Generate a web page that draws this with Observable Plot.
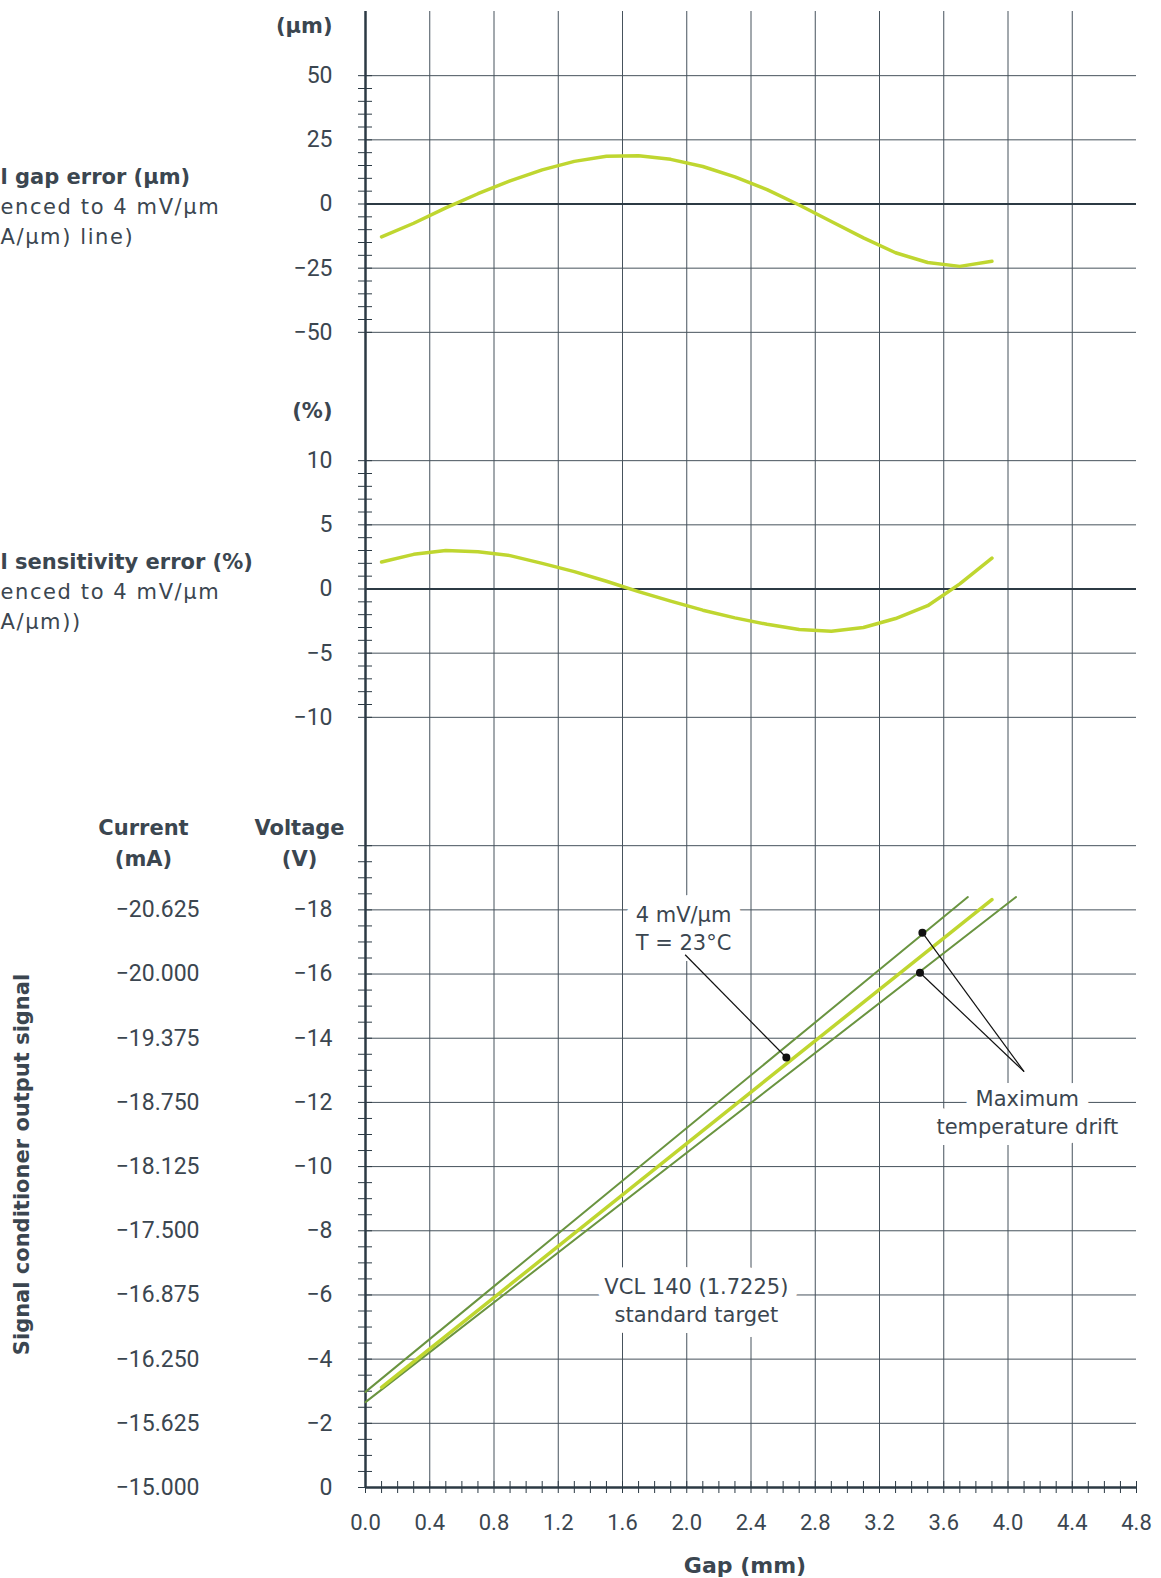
<!DOCTYPE html>
<html>
<head>
<meta charset="utf-8">
<script src="https://cdn.jsdelivr.net/npm/d3@7"></script>
<script src="https://cdn.jsdelivr.net/npm/@observablehq/plot@0.6"></script>
<style>
  html, body { margin: 0; padding: 0; background: #fff; }
  #chart { position: relative; width: 1161px; height: 1578px; overflow: hidden; background: #fff; }
  #chart svg { position: absolute; left: 0; overflow: visible; }
</style>
</head>
<body>
<div id="chart"></div>
<script>
// ---------------- DATA ----------------
const gapPts    = [0.1, 0.3, 0.5, 0.7, 0.9, 1.1, 1.3, 1.5, 1.7, 1.9, 2.1, 2.3, 2.5, 2.7, 2.9, 3.1, 3.3, 3.5, 3.7, 3.9];
const gapError  = [-12.8, -7.5, -1.5, 4.0, 9.0, 13.3, 16.6, 18.6, 18.8, 17.4, 14.6, 10.6, 5.6, -0.4, -6.8, -13.2, -19.0, -22.8, -24.3, -22.3];
const sensError = [2.1, 2.7, 3.0, 2.9, 2.6, 2.0, 1.35, 0.6, -0.2, -0.95, -1.65, -2.25, -2.75, -3.15, -3.3, -3.0, -2.3, -1.3, 0.4, 2.4];

const nominalGap   = [0.1, 3.9];
const nominalV     = [-3.12, -18.32];
const driftHighGap = [0, 3.75];
const driftHighV   = [-2.98, -18.4];
const driftLowGap  = [0, 4.05];
const driftLowV    = [-2.66, -18.4];

const gapTicks      = [0, 0.4, 0.8, 1.2, 1.6, 2.0, 2.4, 2.8, 3.2, 3.6, 4.0, 4.4, 4.8];
const gapTickLabels = ["0.0", "0.4", "0.8", "1.2", "1.6", "2.0", "2.4", "2.8", "3.2", "3.6", "4.0", "4.4", "4.8"];
const gapGrid       = [0.4, 0.8, 1.2, 1.6, 2.0, 2.4, 2.8, 3.2, 3.6, 4.0, 4.4];
const gapMinor      = d3.range(0, 49).map(i => i / 10);

const errorTicks  = [-50, -25, 0, 25, 50];
const errorLabels = ["−50", "−25", "0", "25", "50"];
const errorGrid   = [-50, -25, 25, 50];
const errorMinor  = d3.range(-50, 51, 5);

const sensTicks  = [-10, -5, 0, 5, 10];
const sensLabels = ["−10", "−5", "0", "5", "10"];
const sensGrid   = [-10, -5, 5, 10];
const sensMinor  = d3.range(-10, 11, 1);

const voltTicks     = [-18, -16, -14, -12, -10, -8, -6, -4, -2, 0];
const voltLabels    = ["−18", "−16", "−14", "−12", "−10", "−8", "−6", "−4", "−2", "0"];
const currentLabels = ["−20.625", "−20.000", "−19.375", "−18.750", "−18.125", "−17.500", "−16.875", "−16.250", "−15.625", "−15.000"];
const voltGrid      = [-20, -18, -16, -14, -12, -10, -8, -6, -4, -2];
const voltMinor     = d3.range(-20, 0.01, 0.5);

const noteText      = ["4 mV/μm\nT = 23°C", "Maximum\ntemperature drift", "VCL 140 (1.7225)\nstandard target"];
const noteGap       = [1.98, 4.12, 2.06];
const noteV         = [-17.45, -11.74, -5.88];
const leaderFromGap = [1.99, 4.10, 4.10];
const leaderFromV   = [-16.6, -12.96, -12.96];
const leaderToGap   = [2.62, 3.467, 3.452];
const leaderToV     = [-13.4, -17.29, -16.04];

// ---------------- STYLE ----------------
const W = 1161, ML = 365, MR = 25;
const GRID = "#46525c", AXIS = "#2c3a44", TEXT = "#3b4650";
const LIME = "#bfd630", GREEN = "#6a9440";
const REG = "Roboto, 'DejaVu Sans', sans-serif";
const DJ = "'DejaVu Sans', sans-serif";
const STYLE = {background: "transparent", overflow: "visible", color: TEXT, fontFamily: REG};

const labelFmt = (ticks, labels) => d => labels[ticks.indexOf(d)];

function sidePanel(yTicks, yLabels, yGrid, yMinor, yDomain, values, unit, title, sub1, sub2) {
  return Plot.plot({
    width: W, height: 385, marginLeft: ML, marginRight: MR, marginTop: 0, marginBottom: 0,
    x: {domain: [0, 4.8], axis: null},
    y: {domain: yDomain, axis: null},
    style: STYLE,
    marks: [
      Plot.ruleX(gapGrid, {stroke: GRID, strokeWidth: 1}),
      Plot.gridY(yGrid, {stroke: GRID, strokeOpacity: 1, strokeWidth: 1}),
      Plot.ruleY([0], {stroke: AXIS, strokeWidth: 2.2}),
      Plot.axisY(yMinor, {tickSize: 14, dx: 7, stroke: AXIS, tickFormat: () => "", label: null}),
      Plot.axisY(yTicks, {tickSize: 0, tickPadding: 33, tickFormat: labelFmt(yTicks, yLabels),
        fill: TEXT, fontSize: 23, fontFamily: REG, label: null}),
      Plot.ruleX([0], {stroke: AXIS, strokeWidth: 2.5}),
      Plot.line(gapPts, {x: gapPts, y: values, stroke: LIME, strokeWidth: 3.5, strokeLinejoin: "round"}),
      Plot.text([unit], {frameAnchor: "top-left", dx: -33, dy: 21, textAnchor: "end", lineAnchor: "bottom",
        fontFamily: DJ, fontWeight: "bold", fontSize: 21, fill: TEXT}),
      Plot.text([title], {frameAnchor: "top-left", dx: -ML, dy: 172, textAnchor: "start", lineAnchor: "bottom",
        fontFamily: DJ, fontWeight: "bold", fontSize: 21, fill: TEXT}),
      Plot.text([sub1], {frameAnchor: "top-left", dx: -ML, dy: 202, textAnchor: "start", lineAnchor: "bottom",
        fontFamily: DJ, fontSize: 21, fill: TEXT}),
      Plot.text([sub2], {frameAnchor: "top-left", dx: -ML, dy: 232, textAnchor: "start", lineAnchor: "bottom",
        fontFamily: DJ, fontSize: 21, fill: TEXT})
    ]
  });
}

const subLines = ["enced to 4 mV/μm", "A/μm) line)", "A/μm))"];
const topPlot = sidePanel(errorTicks, errorLabels, errorGrid, errorMinor, [-75, 75], gapError,
  "(μm)", "l gap error (μm)", subLines[0], subLines[1]);
const midPlot = sidePanel(sensTicks, sensLabels, sensGrid, sensMinor, [-15, 15], sensError,
  "(%)", "l sensitivity error (%)", subLines[0], subLines[2]);

const noteFont = {fontFamily: DJ, fontSize: 21, lineHeight: 1.33, textAnchor: "middle", lineAnchor: "middle"};

const botPlot = Plot.plot({
  width: W, height: 797, marginLeft: ML, marginRight: MR, marginTop: 0, marginBottom: 91,
  x: {domain: [0, 4.8], axis: null},
  y: {domain: [0, -22], axis: null},
  style: STYLE,
  marks: [
    Plot.ruleX(gapGrid, {stroke: GRID, strokeWidth: 1}),
    Plot.gridY(voltGrid, {stroke: GRID, strokeOpacity: 1, strokeWidth: 1}),
    // annotation masks
    Plot.text(noteText, {x: noteGap, y: noteV, ...noteFont, fill: "white", stroke: "white", strokeWidth: 22}),
    Plot.axisY(voltMinor, {tickSize: 14, dx: 7, stroke: AXIS, tickFormat: () => "", label: null}),
    Plot.axisY(voltTicks, {tickSize: 0, tickPadding: 33, tickFormat: labelFmt(voltTicks, voltLabels),
      fill: TEXT, fontSize: 23, fontFamily: REG, label: null}),
    Plot.axisY(voltTicks, {tickSize: 0, tickPadding: 166, tickFormat: labelFmt(voltTicks, currentLabels),
      fill: TEXT, fontSize: 23, fontFamily: REG, label: null}),
    Plot.axisX(gapMinor, {tickSize: 12, dy: -6, stroke: AXIS, tickFormat: () => "", label: null}),
    Plot.axisX(gapTicks, {tickSize: 0, tickPadding: 27, tickFormat: labelFmt(gapTicks, gapTickLabels),
      fill: TEXT, fontSize: 22, fontFamily: REG, label: null}),
    Plot.ruleX([0], {stroke: AXIS, strokeWidth: 2.5}),
    Plot.ruleY([0], {stroke: AXIS, strokeWidth: 2.5}),
    Plot.line(driftHighGap, {x: driftHighGap, y: driftHighV, stroke: GREEN, strokeWidth: 2}),
    Plot.line(driftLowGap, {x: driftLowGap, y: driftLowV, stroke: GREEN, strokeWidth: 2}),
    Plot.line(nominalGap, {x: nominalGap, y: nominalV, stroke: LIME, strokeWidth: 3.5}),
    Plot.text(noteText, {x: noteGap, y: noteV, ...noteFont, fill: TEXT}),
    Plot.link(leaderToGap, {x1: leaderFromGap, y1: leaderFromV, x2: leaderToGap, y2: leaderToV, stroke: "#111", strokeWidth: 1.2}),
    Plot.dot(leaderToGap, {x: leaderToGap, y: leaderToV, r: 4, fill: "#111", stroke: "none"}),
    Plot.text(["Current\n(mA)"], {frameAnchor: "top-left", dx: 143 - ML, dy: 84, textAnchor: "middle", lineAnchor: "bottom",
      lineHeight: 1.43, fontFamily: DJ, fontWeight: "bold", fontSize: 21, fill: TEXT}),
    Plot.text(["Voltage\n(V)"], {frameAnchor: "top-left", dx: 299 - ML, dy: 84, textAnchor: "middle", lineAnchor: "bottom",
      lineHeight: 1.43, fontFamily: DJ, fontWeight: "bold", fontSize: 21, fill: TEXT}),
    Plot.text(["Signal conditioner output signal"], {frameAnchor: "left", dx: 22 - ML, dy: 30, rotate: -90,
      textAnchor: "middle", lineAnchor: "middle", fontFamily: DJ, fontWeight: "bold", fontSize: 21, fill: TEXT}),
    Plot.text(["Gap (mm)"], {frameAnchor: "bottom", dx: -6, dy: 85, textAnchor: "middle", lineAnchor: "bottom",
      fontFamily: DJ, fontWeight: "bold", fontSize: 22, fill: TEXT})
  ]
});

const chart = document.getElementById("chart");
topPlot.style.top = "11px";
midPlot.style.top = "396px";
botPlot.style.top = "781px";
chart.append(topPlot, midPlot, botPlot);

// wider tracking for the side sub-captions (the source face is wider)
d3.select(chart).selectAll("text")
  .filter(function() { return subLines.includes(this.textContent); })
  .style("letter-spacing", "1.6px");
</script>
</body>
</html>
